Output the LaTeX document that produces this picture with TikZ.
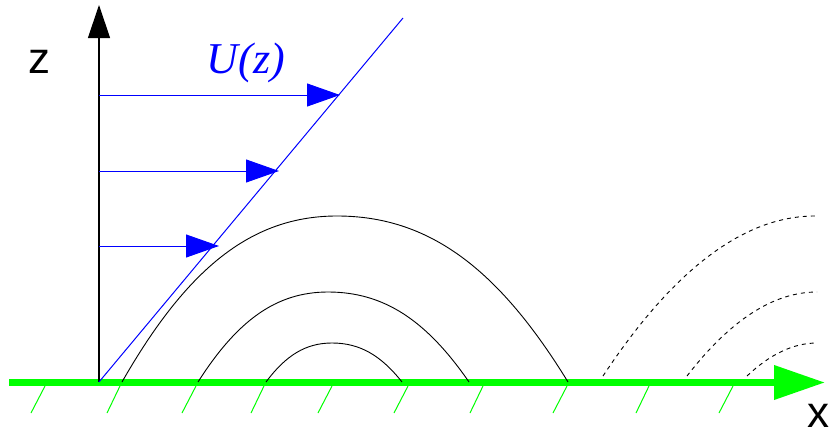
\documentclass[tikz,border=0pt]{standalone}
\usepackage{fontspec}
\setmainfont{Liberation Serif}
\newfontfamily\labelsans{Liberation Sans}
\usetikzlibrary{arrows.meta}
\definecolor{gnd}{RGB}{0,255,0}
\definecolor{ublue}{RGB}{0,0,255}
\begin{document}
\begin{tikzpicture}[x=1pt,y=-1pt,
  axis/.style={line width=1.2pt,black,-{Triangle[length=33pt,width=22pt]}},
  uarrow/.style={line width=1pt,ublue,-{Triangle[length=33pt,width=23pt]}},
  ground/.style={line width=7pt,gnd,-{Triangle[length=51pt,width=33pt]}},
  hatch/.style={line width=1pt,gnd},
  stream/.style={line width=0.9pt,black},
  dstream/.style={line width=0.9pt,black,dash pattern=on 4pt off 4pt},
  axlabel/.style={font=\labelsans\fontsize{44}{44}\selectfont,anchor=base,inner sep=0pt},
  ulabel/.style={font=\itshape\fontsize{44}{44}\selectfont,ublue,anchor=base,inner sep=0pt}]
\useasboundingbox (0,0) rectangle (830,431);
% coordinates
\coordinate (O) at (99,382);
\coordinate (Ztop) at (99,5);
\coordinate (G0) at (9,382.5);
\coordinate (G1) at (825,382.5);
\coordinate (Lend) at (403,18);
% ground
\draw[ground] (G0) -- (G1);
\foreach \b/\t in {31/45,107/120,182/196,251/264,318/332,394/408,470/483,553/567,636/649,719/733}{
  \coordinate (hb) at (\b,413);
  \coordinate (ht) at (\t,386);
  \draw[hatch] (ht) -- (hb);
}
% z axis
\draw[axis] (O) -- (Ztop);
\node[axlabel] (zl) at (39,73) {z};
\node[axlabel] (xl) at (818,427) {x};
% velocity profile
\draw[line width=1pt,ublue] (O) -- (Lend);
\coordinate (A1) at (99,95);  \coordinate (T1) at (340,95);
\coordinate (A2) at (99,171); \coordinate (T2) at (279,171);
\coordinate (A3) at (99,246); \coordinate (T3) at (219,246);
\draw[uarrow] (A1) -- (T1);
\draw[uarrow] (A2) -- (T2);
\draw[uarrow] (A3) -- (T3);
\node[ulabel] (ul) at (246,73) {U(z)};
% streamlines
\coordinate (S1a) at (122,382); \coordinate (S1t) at (337,216); \coordinate (S1b) at (568,382);
\draw[stream] (S1a) .. controls (186.5,269.1) and (251,216) .. (S1t)
  .. controls (429.4,216) and (498.7,269.1) .. (S1b);
\coordinate (S2a) at (198,382); \coordinate (S2t) at (328,292); \coordinate (S2b) at (469,382);
\draw[stream] (S2a) .. controls (237,320.8) and (276,292) .. (S2t)
  .. controls (384.4,292) and (426.7,320.8) .. (S2b);
\coordinate (S3a) at (266,382); \coordinate (S3t) at (332,343); \coordinate (S3b) at (402,382);
\draw[stream] (S3a) .. controls (285.8,355.5) and (305.6,343) .. (S3t)
  .. controls (360,343) and (381,355.5) .. (S3b);
% dashed streamlines (right)
\coordinate (D1a) at (603,376); \coordinate (D1t) at (815,216);
\draw[dstream] (D1a) .. controls (673.7,269) and (744.3,216) .. (D1t);
\coordinate (D2a) at (687,376); \coordinate (D2t) at (817,292);
\draw[dstream] (D2a) .. controls (730.3,320) and (773.7,292) .. (D2t);
\coordinate (D3a) at (747,376); \coordinate (D3t) at (817,343);
\draw[dstream] (D3a) .. controls (770.3,354) and (793.7,343) .. (D3t);
\end{tikzpicture}
\end{document}
